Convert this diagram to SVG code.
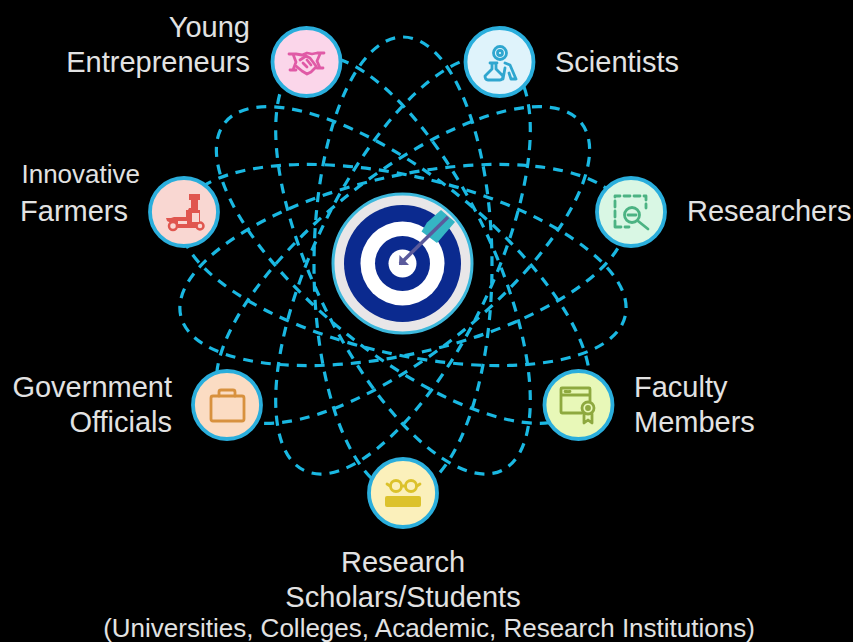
<svg xmlns="http://www.w3.org/2000/svg" width="853" height="642" viewBox="0 0 853 642">
<style>
text{font-family:"Liberation Sans",Arial,sans-serif;font-size:29px;fill:#e2e2e2}
text.s{font-size:26px}
.e{fill:none;stroke:#1ab8e2;stroke-width:3.200;stroke-dasharray:10 8}
.n{stroke:#2aaedc;stroke-width:3.800}
.i{fill:none;stroke-width:2.800;stroke-linecap:round;stroke-linejoin:round}
</style>
<defs>
<ellipse id="orbit" class="e" cx="403" cy="265" rx="228" ry="89"/>
</defs>
<rect width="853" height="642" fill="#000"/>
<g id="connectors">
<use href="#orbit" transform="rotate(90 403 265)"/>
<use href="#orbit" transform="rotate(64.300 403 265)"/>
<use href="#orbit" transform="rotate(38.600 403 265)"/>
<use href="#orbit" transform="rotate(12.900 403 265)"/>
<use href="#orbit" transform="rotate(-12.900 403 265)"/>
<use href="#orbit" transform="rotate(-38.600 403 265)"/>
<use href="#orbit" transform="rotate(-64.300 403 265)"/>
</g>
<g id="center">
<circle cx="402.500" cy="263.500" r="69.500" fill="#e8e6e8" stroke="#3cb8dc" stroke-width="3"/>
<circle cx="402.500" cy="263.500" r="58.500" fill="#0b2a8f"/>
<circle cx="402.500" cy="263.500" r="42" fill="#fff"/>
<circle cx="402.500" cy="263.500" r="27.500" fill="#0b2a8f"/>
<circle cx="402.500" cy="263.500" r="14" fill="#fff"/>
<path d="M441 210L455 222L437 243L421.500 231.500L427 222.500Z" fill="#35b5c4"/>
<path d="M400 264L448 217" stroke="#5a5a9c" stroke-width="3.500" fill="none"/>
<path d="M399 265L399.500 255L409 265Z" fill="#5a5a9c"/>
</g>
<g id="young-entrepreneurs">
<circle class="n" cx="306.500" cy="62" r="34" fill="#fbd6ea"/>
<path class="i" stroke="#e05aa6" d="M289 54h7l6 1 5-2 5 1 5-1h7M290 70h6M323 68h-6M293 54l3 8-3 8M320 54l-3 7 3 7M296 66l6 5 5 3 4-2 5-5M300 60l6-4 4 2 6 8M303 63l4 4M307 60l4 5"/>
<text x="250" y="37" text-anchor="end">Young</text>
<text x="250" y="72" text-anchor="end">Entrepreneurs</text>
</g>
<g id="scientists">
<circle class="n" cx="499.500" cy="62" r="34" fill="#dff3fb"/>
<g class="i" stroke="#2fa6cf">
<circle cx="500" cy="53" r="6.500"/>
<circle cx="500" cy="53" r="2.500"/>
<path d="M490 63h7M492 63v6l-7 7q0 4 3 4h12q3 0 3-4l-7-7v-6M505 63l5 2 6 14h-5l-2-6M505 68l-2 11"/>
</g>
<text x="555" y="72">Scientists</text>
</g>
<g id="researchers">
<circle class="n" cx="631" cy="212" r="34" fill="#d9f7e4"/>
<g class="i" stroke="#4cb383">
<path d="M615 227v-31h31v12M615 227h14" stroke-dasharray="6 4"/>
<circle cx="632" cy="215" r="7.500"/>
<path d="M628 215h8M638 221l10 8"/>
</g>
<text x="687" y="221">Researchers</text>
</g>
<g id="faculty-members">
<circle class="n" cx="578.500" cy="405" r="34" fill="#e8f8b8"/>
<g class="i" stroke="#8ea93f">
<path d="M582 413h-20q-1 0-1-1v-23q0-1 1-1h27q1 0 1 1v12M561 395h29"/>
<path d="M565 391.500h5" stroke-dasharray="2 2"/>
<circle cx="588" cy="408" r="6"/>
<circle cx="588" cy="408" r="1.500"/>
<path d="M584 414v9l4-3 4 3v-9"/>
</g>
<text x="634" y="397">Faculty</text>
<text x="634" y="432">Members</text>
</g>
<g id="research-scholars">
<circle class="n" cx="403" cy="493" r="34" fill="#fbf0bb"/>
<g class="i" stroke="#dcc22c">
<circle cx="396" cy="486" r="5.500"/>
<circle cx="411" cy="486" r="5.500"/>
<path d="M401.500 486h4M390 486l-3-2M417 486l3-2"/>
</g>
<rect x="385" y="496" width="36" height="11" rx="2" fill="#dcc22c"/>
<text x="403" y="572" text-anchor="middle">Research</text>
<text x="403" y="607" text-anchor="middle">Scholars/Students</text>
<text class="s" x="429" y="637" text-anchor="middle">(Universities, Colleges, Academic, Research Institutions)</text>
</g>
<g id="government-officials">
<circle class="n" cx="227" cy="405" r="34" fill="#fbdcc3"/>
<g class="i" stroke="#d8913e">
<rect x="211" y="396" width="33" height="25" rx="2"/>
<path d="M219 396v-4q0-2 2-2h12q2 0 2 2v4"/>
</g>
<text x="172" y="397" text-anchor="end">Government</text>
<text x="172" y="432" text-anchor="end">Officials</text>
</g>
<g id="innovative-farmers">
<circle class="n" cx="184" cy="212" r="34" fill="#f9d7d2"/>
<path d="M189 194h11v6h-2v10h2v18h-22v-3h-3l-8-4 -1-3h5l3-1 h12v-7h2l1-2h2v-8h-2z" fill="#e0564f"/>
<circle cx="173" cy="226" r="4" fill="#f9d7d2" stroke="#e0564f" stroke-width="2.500"/>
<circle cx="200" cy="226" r="3.500" fill="#f9d7d2" stroke="#e0564f" stroke-width="2.500"/>
<path d="M192 213h7v9h-7zM178 221h9v3h-9z" fill="#f9d7d2"/>
<text class="s" x="140" y="183" text-anchor="end">Innovative</text>
<text x="128" y="221" text-anchor="end">Farmers</text>
</g>
</svg>
